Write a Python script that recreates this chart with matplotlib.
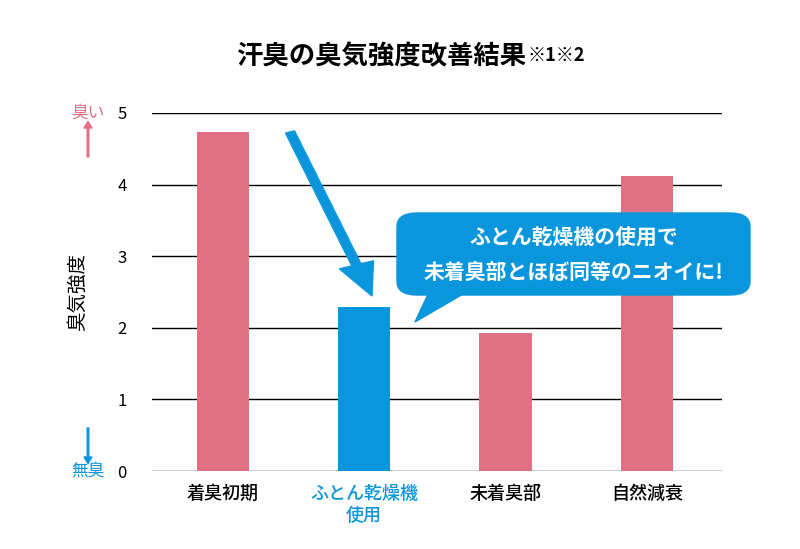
import matplotlib
matplotlib.use("Agg")
import matplotlib.pyplot as plt
from matplotlib.patches import FancyBboxPatch, Polygon, FancyArrow

plt.rcParams["font.family"] = "Noto Sans CJK JP"

categories = ["着臭初期", "ふとん乾燥機\n使用", "未着臭部", "自然減衰"]
values = [4.73, 2.29, 1.93, 4.12]
colors = ["#e07084", "#0a96dc", "#e07084", "#e07084"]
yticks = [0, 1, 2, 3, 4, 5]

W, H = 800, 549
fig = plt.figure(figsize=(8, 5.49), dpi=100)
ax = fig.add_axes([152/W, 1-471/H, (722-152)/W, (471-113)/H])
ax.bar(range(4), values, width=0.37, color=colors, zorder=3)
ax.set_xlim(-0.5, 3.53)
ax.set_ylim(0, 5)
ax.set_yticks(yticks)
for y in yticks:
    ax.axhline(y, color="black", lw=1, zorder=1)
for s in ax.spines.values():
    s.set_visible(False)
ax.tick_params(length=0, labelsize=12, pad=18)
ax.tick_params(axis="x", pad=10)
ax.set_xticks(range(4))
ax.set_xticklabels(categories, fontsize=13, linespacing=1.3, fontweight="medium")
ax.get_xticklabels()[1].set_color("#0a96dc")

def fx(x): return x/W
def fy(y): return 1-y/H

fig.text(fx(526), fy(57), "汗臭の臭気強度改善結果", fontsize=19, fontweight="bold", ha="right", va="center")
fig.text(fx(528), fy(55), "※1※2", fontsize=13, fontweight="bold", ha="left", va="center")
fig.text(fx(78), fy(292), "臭気強度", fontsize=14, rotation=90, ha="center", va="center")
fig.text(fx(88), fy(113), "臭い", fontsize=12, color="#e07084", ha="center", va="center")
fig.text(fx(88), fy(471), "無臭", fontsize=12, color="#0a96dc", ha="center", va="center")
fig.patches.append(FancyArrow(fx(88), fy(157), 0, (157-128)/H, width=0.002, head_width=0.01, head_length=0.012,
                              color="#e07084", transform=fig.transFigure))
fig.patches.append(FancyArrow(fx(88), fy(428), 0, -(457-428)/H, width=0.002, head_width=0.01, head_length=0.012,
                              color="#0a96dc", transform=fig.transFigure))
fig.patches.append(FancyArrow(fx(290), fy(132), fx(372)-fx(290), fy(296)-fy(132), width=0.012,
                              head_width=0.045, head_length=0.06, length_includes_head=True,
                              color="#0a96dc", transform=fig.transFigure, zorder=5))
blue = "#0a96dc"
fig.patches.append(FancyBboxPatch((fx(397), fy(295)), fx(750)-fx(397), fy(213)-fy(295),
                                  boxstyle="round,pad=0,rounding_size=0.025", color=blue,
                                  transform=fig.transFigure, zorder=5))
fig.patches.append(Polygon([(fx(430), fy(290)), (fx(470), fy(290)), (fx(415), fy(322))],
                           closed=True, color=blue, transform=fig.transFigure, zorder=5))
fig.text(fx(574), fy(238), "ふとん乾燥機の使用で", fontsize=15, fontweight="bold", color="white",
         ha="center", va="center", zorder=6)
fig.text(fx(574), fy(272), "未着臭部とほぼ同等のニオイに!", fontsize=15, fontweight="bold", color="white",
         ha="center", va="center", zorder=6)
fig.savefig("out.png", dpi=100)
